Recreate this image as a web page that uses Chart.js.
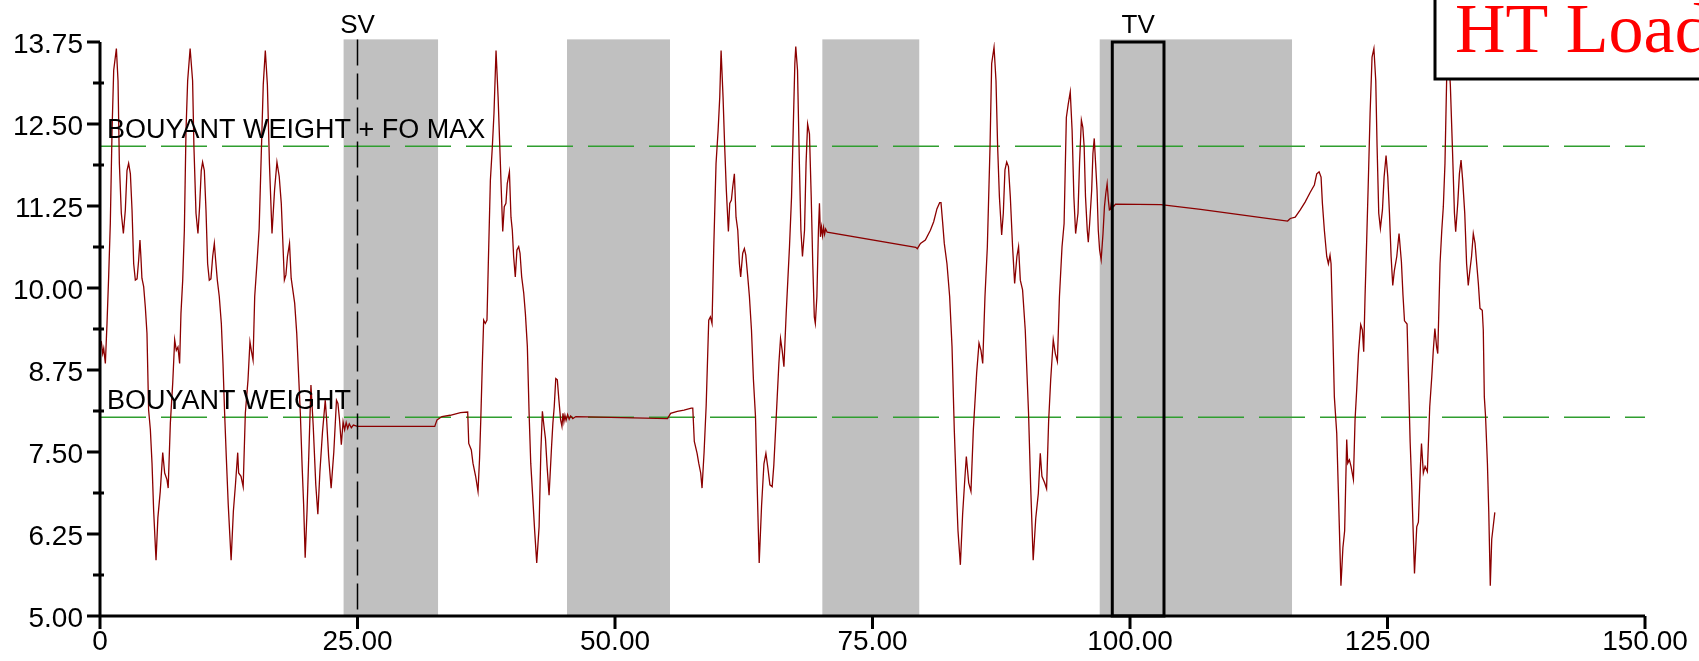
<!DOCTYPE html>
<html>
<head>
<meta charset="utf-8">
<title>HT Load</title>
<script src="https://cdn.jsdelivr.net/npm/chart.js@4.4.1/dist/chart.umd.min.js"></script>
<style>
    html, body { margin: 0; padding: 0; background: #ffffff; }
    canvas { display: block; }
</style>
</head>
<body>
<canvas id="htChart" width="1699" height="661"></canvas>
<script>
// Tempo (s) e carga HT
const timeS = [
    0.0, 0.13, 0.26, 0.36, 0.52, 0.68, 0.84, 1.0, 1.17, 1.33,
    1.59, 1.75, 1.88, 2.07, 2.27, 2.46, 2.62, 2.78, 2.95, 3.11,
    3.27, 3.43, 3.6, 3.75, 3.88, 3.98, 4.07, 4.24, 4.4, 4.56,
    4.72, 4.89, 5.05, 5.21, 5.44, 5.62, 5.85, 6.09, 6.28, 6.5,
    6.62, 6.83, 7.06, 7.25, 7.41, 7.57, 7.73, 7.86, 8.03, 8.19,
    8.35, 8.51, 8.75, 8.99, 9.12, 9.32, 9.51, 9.67, 9.83, 9.96,
    10.13, 10.29, 10.45, 10.61, 10.77, 10.94, 11.1, 11.23, 11.39, 11.58,
    11.78, 11.94, 12.1, 12.26, 12.45, 12.73, 12.95, 13.15, 13.37, 13.46,
    13.69, 13.9, 14.11, 14.37, 14.56, 14.69, 14.86,
    15.02, 15.25, 15.45, 15.65, 15.85, 16.05, 16.25, 16.45, 16.7, 16.95,
    17.18, 17.4, 17.6, 17.9, 18.05, 18.2, 18.4, 18.56, 18.9, 19.1,
    19.45, 19.62, 19.77, 19.92, 20.1, 20.3, 20.48, 20.7, 20.95, 21.15,
    21.35, 21.6, 21.87, 22.0, 22.2, 22.44, 22.7, 22.96, 23.1, 23.25,
    23.43, 23.6, 23.75, 23.9, 24.05, 24.2, 24.4, 24.6, 25.0, 32.5,
    32.72, 33.2, 34.0, 35.0, 35.7, 35.8, 36.05, 36.21, 36.47, 36.7,
    36.85, 36.97, 37.12, 37.25, 37.41, 37.57, 37.7, 37.9, 38.09, 38.25,
    38.45, 38.65, 38.85, 38.96, 39.1, 39.25, 39.41, 39.54, 39.75, 39.9,
    40.03, 40.16, 40.32, 40.48, 40.65, 40.78, 40.94, 41.14, 41.3, 41.49,
    41.66, 41.82, 42.0, 42.2, 42.4, 42.63, 42.8, 42.95, 43.1, 43.25,
    43.4, 43.6, 43.84, 43.97, 44.1, 44.25, 44.4, 44.55, 44.72, 44.85,
    44.95, 45.04, 45.14, 45.25, 45.4, 45.55, 45.7, 45.9, 46.2, 55.1,
    55.4, 56.05, 56.7, 57.41, 57.55, 57.7, 57.97, 58.13, 58.32, 58.45,
    58.65, 58.85, 59.1, 59.26, 59.42, 59.59, 59.81, 60.01, 60.17, 60.3,
    60.49, 60.65, 60.81, 61.01, 61.14, 61.3, 61.43, 61.59, 61.75, 61.92,
    62.08, 62.2, 62.4, 62.56, 62.7, 62.89, 63.05, 63.25, 63.44, 63.64,
    63.8, 64.0, 64.23, 64.46, 64.65, 64.84, 65.04, 65.26, 65.42, 65.58,
    65.75, 65.91, 66.07, 66.23, 66.4, 66.62, 66.78, 66.94, 67.14, 67.3,
    67.46, 67.55, 67.72, 67.9, 68.05, 68.2, 68.4, 68.55, 68.7, 68.88,
    69.05, 69.2, 69.35, 69.45, 69.6, 69.75, 69.85, 69.95, 70.05, 70.15,
    70.25, 70.35, 70.45, 70.6, 79.2, 79.35, 79.66, 80.13, 80.62, 80.94,
    81.26, 81.52, 81.65, 81.81, 81.97, 82.23, 82.49, 82.72, 82.94, 83.15,
    83.3, 83.53, 83.75, 83.98, 84.11, 84.34, 84.56, 84.79, 85.11, 85.34,
    85.53, 85.7, 85.92, 86.15, 86.41, 86.57, 86.8, 86.99, 87.15, 87.32,
    87.54, 87.7, 87.86, 88.03, 88.2, 88.38, 88.6, 88.8, 89.02, 89.18,
    89.35, 89.57, 89.83, 90.15, 90.35, 90.6, 90.85, 91.1, 91.29, 91.45,
    91.71, 91.9, 92.1, 92.3, 92.55, 92.75, 92.95, 93.15, 93.4, 93.6,
    93.82, 94.0, 94.2, 94.38, 94.55, 94.72, 94.95, 95.1, 95.28, 95.42,
    95.55, 95.68, 95.85, 95.95, 96.08, 96.28, 96.4, 96.53, 96.66, 96.8,
    96.92, 97.05, 97.2, 97.38, 97.52, 97.65, 97.78, 97.9, 98.0, 98.1,
    98.2, 98.4, 98.6, 103.0, 106.85, 110.08, 113.3, 115.3, 115.56, 116.04,
    116.53, 117.0, 117.5, 117.9, 118.13, 118.36, 118.55, 118.68, 118.87, 119.1,
    119.26, 119.42, 119.52, 119.65, 119.84, 120.07, 120.23, 120.48, 120.67, 120.84,
    121.04, 121.14, 121.3, 121.46, 121.69, 121.85, 122.01, 122.18, 122.4, 122.56,
    122.69, 122.82, 122.98, 123.14, 123.31, 123.5, 123.68, 123.86, 123.99, 124.15,
    124.31, 124.51, 124.67, 124.86, 125.03, 125.19, 125.35, 125.51, 125.67, 125.9,
    126.12, 126.35, 126.5, 126.65, 126.9, 127.0, 127.2, 127.35, 127.62, 127.84,
    128.0, 128.2, 128.3, 128.48, 128.65, 128.87, 129.1, 129.3, 129.45, 129.6,
    129.77, 129.88, 130.1, 130.27, 130.42, 130.58, 130.74, 130.9, 131.1, 131.3,
    131.5, 131.62, 131.82, 131.98, 132.14, 132.3, 132.5, 132.68, 132.84, 133.0,
    133.16, 133.33, 133.5, 133.66, 133.82, 133.98, 134.2, 134.3, 134.4, 134.52,
    134.7, 134.83, 134.98, 135.12, 135.26, 135.42
];

const htLoad = [
    9.2, 9.18, 9.0, 9.08, 8.85, 9.46, 10.17, 10.98, 12.4, 13.32,
    13.65, 13.16, 11.9, 11.14, 10.83, 11.19, 11.79, 11.9, 11.74, 11.19,
    10.37, 10.12, 10.14, 10.42, 10.73, 10.45, 10.15, 10.02, 9.71, 9.31,
    8.14, 7.84, 7.33, 6.6, 5.85, 6.5, 6.9, 7.49, 7.18, 7.08,
    6.95, 7.94, 8.55, 9.21, 9.05, 9.1, 8.85, 9.61, 10.12, 10.88,
    12.4, 13.16, 13.65, 13.16, 12.15, 11.14, 10.83, 11.24, 11.79, 11.92,
    11.79, 11.19, 10.37, 10.12, 10.14, 10.48, 10.68, 10.42, 10.12, 9.87,
    9.46, 8.85, 8.09, 7.43, 6.7, 5.85, 6.6, 7.0, 7.49, 7.18,
    7.13, 6.97, 8.09, 8.6, 9.18, 9.05, 8.9,
    9.87, 10.4, 10.9, 12.0, 13.1, 13.62, 13.1, 11.9, 10.83, 11.5,
    11.92, 11.7, 11.29, 10.12, 10.2, 10.48, 10.68, 10.15, 9.77, 9.31,
    8.09, 7.3, 6.7, 5.89, 6.6, 7.6, 8.52, 7.9, 7.0, 6.55,
    7.2, 7.8, 8.29, 8.0, 7.43, 6.95, 7.5, 8.29, 8.24, 8.0,
    7.61, 7.96, 7.84, 7.95, 7.86, 7.93, 7.87, 7.91, 7.89, 7.89,
    7.99, 8.04, 8.06, 8.1, 8.11, 7.63, 7.53, 7.33, 7.13, 6.9,
    7.4, 8.0, 8.85, 9.51, 9.46, 9.51, 10.37, 11.64, 12.15, 12.66,
    13.62, 12.91, 12.0, 11.49, 10.86, 11.24, 11.29, 11.59, 11.77, 11.08,
    10.88, 10.48, 10.17, 10.58, 10.63, 10.53, 10.17, 9.92, 9.61, 9.11,
    8.09, 7.33, 6.85, 6.3, 5.81, 6.36, 7.5, 8.12, 7.9, 7.7,
    7.3, 6.84, 7.58, 7.94, 8.19, 8.62, 8.6, 8.3, 7.99, 7.89,
    8.09, 7.96, 8.06, 7.98, 8.07, 8.0, 8.05, 8.01, 8.04, 8.01,
    8.09, 8.12, 8.14, 8.17, 8.17, 7.66, 7.48, 7.33, 7.18, 6.95,
    7.5, 8.2, 9.51, 9.56, 9.46, 10.63, 11.9, 12.4, 12.91, 13.62,
    12.91, 12.15, 11.49, 10.86, 11.29, 11.34, 11.54, 11.74, 11.08, 10.88,
    10.37, 10.17, 10.53, 10.6, 10.5, 10.17, 9.87, 9.36, 8.6, 8.04,
    7.0, 5.81, 6.68, 7.32, 7.48, 7.26, 7.0, 6.97, 7.3, 7.8,
    8.34, 8.85, 9.23, 9.05, 8.8, 9.61, 10.12, 10.63, 11.39, 12.4,
    13.42, 13.68, 13.32, 11.9, 10.88, 10.48, 10.88, 11.9, 12.5, 12.35,
    11.39, 10.37, 9.56, 9.46, 9.87, 10.88, 11.29, 10.78, 10.93, 10.8,
    10.92, 10.82, 10.9, 10.85, 10.62, 10.6, 10.68, 10.73, 10.88, 11.01,
    11.21, 11.3, 11.3, 11.0, 10.68, 10.37, 9.87, 9.11, 7.84, 6.9,
    6.3, 5.78, 6.55, 7.13, 7.43, 7.03, 6.9, 7.84, 8.7, 9.16,
    9.05, 8.85, 9.87, 10.63, 12.15, 13.42, 13.67, 13.16, 12.15, 11.39,
    10.81, 11.14, 11.8, 11.92, 11.85, 11.39, 10.63, 10.07, 10.48, 10.63,
    10.12, 9.97, 9.36, 8.09, 7.0, 5.85, 6.49, 6.87, 7.48, 7.13,
    7.03, 6.94, 7.97, 8.6, 9.21, 9.0, 8.88, 9.87, 10.63, 10.98,
    12.6, 12.8, 12.99, 12.4, 11.39, 10.83, 11.14, 11.9, 12.56, 12.45,
    12.15, 11.39, 10.88, 10.7, 10.98, 11.49, 12.05, 12.28, 11.9, 11.49,
    10.88, 10.58, 10.43, 10.83, 11.24, 11.44, 11.59, 11.34, 11.19, 11.2,
    11.3, 11.24, 11.28, 11.27, 11.2, 11.13, 11.06, 11.02, 11.06, 11.08,
    11.19, 11.31, 11.46, 11.57, 11.74, 11.77, 11.69, 11.29, 10.88, 10.48,
    10.37, 10.5, 10.37, 9.61, 8.34, 7.79, 6.9, 5.46, 6.04, 6.3,
    7.69, 7.33, 7.38, 7.28, 7.08, 7.99, 8.45, 9.0, 9.44, 9.36,
    9.03, 9.87, 10.73, 11.64, 12.66, 13.52, 13.65, 13.16, 12.15, 11.14,
    10.91, 11.19, 11.69, 12.02, 11.69, 11.14, 10.48, 10.04, 10.27, 10.48,
    10.83, 10.4, 9.9, 9.5, 9.45, 8.85, 7.65, 7.0, 5.65, 6.36,
    6.43, 7.3, 7.63, 7.18, 7.28, 7.2, 8.19, 8.65, 9.06, 9.38,
    9.1, 9.0, 10.37, 10.88, 11.24, 11.9, 13.16, 13.6, 13.1, 12.15,
    11.14, 10.86, 11.29, 11.74, 11.95, 11.64, 11.14, 10.37, 10.04, 10.27,
    10.48, 10.83, 10.68, 10.37, 10.07, 9.69, 9.66, 9.36, 8.34, 8.04,
    7.33, 6.6, 5.46, 6.17, 6.36, 6.58
];

// Linhas de referência (tracejado verde)
const refValues = [12.16, 8.03];
const refLabels = ['BOUYANT WEIGHT + FO MAX', 'BOUYANT WEIGHT'];

// Faixas cinzas (início / fim em segundos)
const bandStarts = [23.65, 45.34, 70.13, 97.06];
const bandEnds = [32.82, 55.34, 79.54, 115.73];

// Marcadores SV / TV
const svTime = 25;
const tvStart = 98.28;
const tvEnd = 103.3;

// Eixos
const xTicks = [0, 25, 50, 75, 100, 125, 150];
const xTickLabels = ['0', '25.00', '50.00', '75.00', '100.00', '125.00', '150.00'];
const yTicks = [5, 5.625, 6.25, 6.875, 7.5, 8.125, 8.75, 9.375, 10, 10.625, 11.25, 11.875, 12.5, 13.125, 13.75];
const yTickLabels = ['5.00', '', '6.25', '', '7.50', '', '8.75', '', '10.00', '', '11.25', '', '12.50', '', '13.75'];

const titleText = 'HT Load';

const SANS = '"Liberation Sans", Arial, sans-serif';
const SERIF = '"Liberation Serif", "Times New Roman", serif';

// Faixas atrás das curvas
const bandsPlugin = {
    id: 'bands',
    beforeDatasetsDraw(chart) {
        const { ctx, scales: { x, y } } = chart;
        const top = y.getPixelForValue(13.79);
        const bottom = y.getPixelForValue(5);
        ctx.save();
        ctx.fillStyle = '#c0c0c0';
        bandStarts.forEach((s, i) => {
            const x0 = x.getPixelForValue(s);
            const x1 = x.getPixelForValue(bandEnds[i]);
            ctx.fillRect(x0, top, x1 - x0, bottom - top);
        });
        ctx.restore();
    }
};

// Eixos, marcadores, textos e caixa do título
const overlayPlugin = {
    id: 'overlay',
    afterDatasetsDraw(chart) {
        const { ctx, scales: { x, y } } = chart;
        const x0 = x.getPixelForValue(0);
        const y0 = y.getPixelForValue(5);
        ctx.save();

        // textos das linhas de referência
        ctx.fillStyle = '#000';
        ctx.font = '27px ' + SANS;
        ctx.textAlign = 'left';
        ctx.textBaseline = 'alphabetic';
        refValues.forEach((v, i) => {
            ctx.fillText(refLabels[i], x0 + 7, y.getPixelForValue(v) - 8);
        });

        // SV: linha vertical tracejada
        const svX = x.getPixelForValue(svTime);
        ctx.strokeStyle = '#000';
        ctx.lineWidth = 1.5;
        ctx.setLineDash([26, 8]);
        ctx.beginPath();
        ctx.moveTo(svX, y.getPixelForValue(13.79));
        ctx.lineTo(svX, y0);
        ctx.stroke();
        ctx.setLineDash([]);

        // TV: retângulo
        const tx0 = x.getPixelForValue(tvStart);
        const tx1 = x.getPixelForValue(tvEnd);
        const ty = y.getPixelForValue(13.75);
        ctx.lineWidth = 3;
        ctx.strokeRect(tx0, ty, tx1 - tx0, y0 - ty);

        ctx.font = '26px ' + SANS;
        ctx.textAlign = 'center';
        ctx.fillText('SV', svX, 33);
        ctx.fillText('TV', x.getPixelForValue((tvStart + tvEnd) / 2), 33);

        // eixos
        ctx.lineWidth = 3;
        ctx.beginPath();
        ctx.moveTo(x0, y.getPixelForValue(13.75));
        ctx.lineTo(x0, y0 + 13);
        ctx.moveTo(x0, y0);
        ctx.lineTo(x.getPixelForValue(150), y0);
        xTicks.forEach(v => {
            const px = x.getPixelForValue(v);
            ctx.moveTo(px, y0);
            ctx.lineTo(px, y0 + 13);
        });
        yTicks.forEach((v, i) => {
            const py = y.getPixelForValue(v);
            if (yTickLabels[i]) {
                ctx.moveTo(x0 - 13, py);
                ctx.lineTo(x0, py);
            } else {
                ctx.moveTo(x0 - 7, py);
                ctx.lineTo(x0 + 4, py);
            }
        });
        ctx.stroke();

        // caixa "HT Load" no canto
        ctx.fillStyle = '#fff';
        ctx.fillRect(1435, -10, 300, 89);
        ctx.strokeRect(1435, -10, 300, 89);
        ctx.fillStyle = '#ff0000';
        ctx.font = '70px ' + SERIF;
        ctx.textAlign = 'left';
        ctx.fillText(titleText, 1455, 52);

        ctx.restore();
    }
};

const ctx = document.getElementById('htChart').getContext('2d');

new Chart(ctx, {
    type: 'line',
    data: {
        datasets: [
            {
                data: timeS.map((t, i) => ({ x: t, y: htLoad[i] })),
                borderColor: '#8b0000',
                borderWidth: 1.3,
                pointRadius: 0,
                tension: 0
            },
            ...refValues.map(v => ({
                data: [{ x: 0, y: v }, { x: 150, y: v }],
                borderColor: '#2f9e2f',
                borderWidth: 1.5,
                borderDash: [46, 15],
                pointRadius: 0
            }))
        ]
    },
    options: {
        responsive: false,
        animation: false,
        devicePixelRatio: 1,
        // as caixas dos eixos ocupam exatamente a margem esquerda e a inferior
        layout: { padding: { left: 0, right: 54, top: 42, bottom: 0 } },
        plugins: {
            legend: { display: false },
            tooltip: { enabled: false }
        },
        scales: {
            x: {
                type: 'linear',
                min: 0,
                max: 150,
                afterFit: s => { s.height = 45; },
                afterBuildTicks: s => { s.ticks = xTicks.map(v => ({ value: v })); },
                ticks: {
                    autoSkip: false,
                    maxRotation: 0,
                    padding: 9,
                    color: '#000',
                    font: { family: SANS, size: 28 },
                    callback: (v, i) => xTickLabels[i]
                },
                grid: { display: false, drawTicks: false },
                border: { display: false }
            },
            y: {
                type: 'linear',
                min: 5,
                max: 13.75,
                afterFit: s => { s.width = 100; },
                afterBuildTicks: s => { s.ticks = yTicks.map(v => ({ value: v })); },
                ticks: {
                    autoSkip: false,
                    padding: 17,
                    labelOffset: 3,
                    color: '#000',
                    font: { family: SANS, size: 28 },
                    callback: (v, i) => yTickLabels[i]
                },
                grid: { display: false, drawTicks: false },
                border: { display: false }
            }
        }
    },
    plugins: [bandsPlugin, overlayPlugin]
});
</script>
</body>
</html>
